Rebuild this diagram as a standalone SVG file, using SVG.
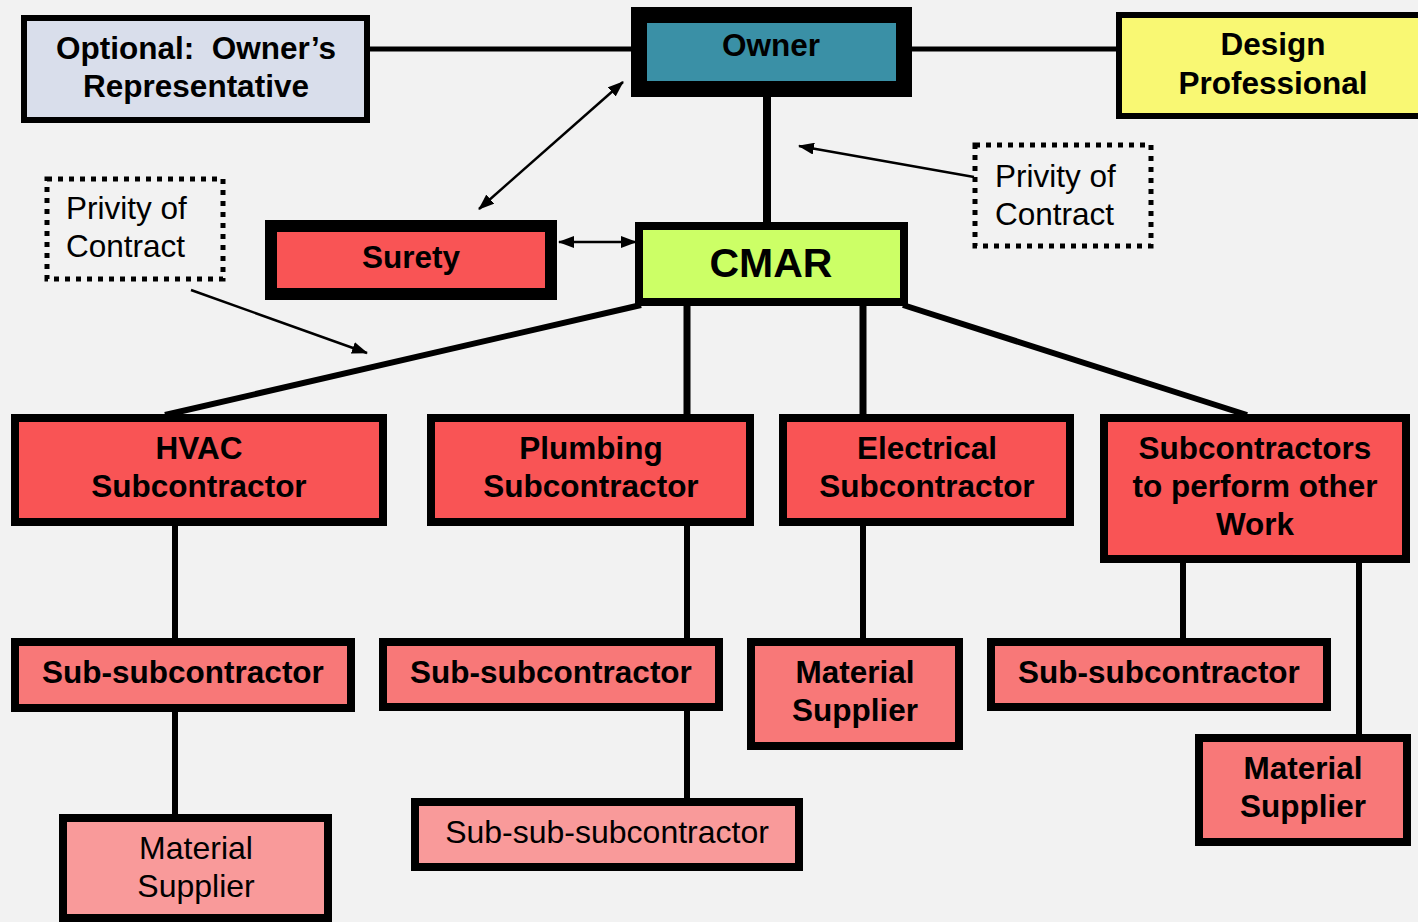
<svg xmlns="http://www.w3.org/2000/svg" width="1418" height="922" viewBox="0 0 1418 922">
<defs>
<style>
.b{font-family:"Liberation Sans",Arial,sans-serif;font-weight:bold;font-size:31.5px;fill:#000;text-anchor:middle}
.n{font-family:"Liberation Sans",Arial,sans-serif;font-size:31.5px;fill:#000}
.nc{font-family:"Liberation Sans",Arial,sans-serif;font-size:32px;fill:#000;text-anchor:middle}
.box{stroke:#000;stroke-width:8}
.red{fill:#f95455}
.pink{fill:#f87878}
.light{fill:#f99a9a}
.dot{fill:none;stroke:#000;stroke-width:5;stroke-dasharray:5 6}
.c{stroke:#000;fill:none}
.ar{stroke:#000;stroke-width:2.5;fill:none}
</style>
<marker id="ah" viewBox="0 0 16 12" refX="15" refY="6" markerWidth="16" markerHeight="12" markerUnits="userSpaceOnUse" orient="auto-start-reverse">
<path d="M0,0 L16,6 L0,12 Z" fill="#000"/>
</marker>
</defs>
<rect width="1418" height="922" fill="#f2f2f2"/>
<g id="connectors">
<line class="c" stroke-width="5" x1="369" y1="49" x2="634" y2="49"/>
<line class="c" stroke-width="5" x1="910" y1="49" x2="1118" y2="49"/>
<line class="c" stroke-width="8" x1="767" y1="95" x2="767" y2="224"/>
<line class="c" stroke-width="6" x1="641" y1="305" x2="165" y2="415"/>
<line class="c" stroke-width="7" x1="687" y1="304" x2="687" y2="416"/>
<line class="c" stroke-width="7" x1="863" y1="304" x2="863" y2="416"/>
<line class="c" stroke-width="6" x1="903" y1="305" x2="1247" y2="415"/>
<line class="c" stroke-width="6" x1="175" y1="524" x2="175" y2="640"/>
<line class="c" stroke-width="6" x1="175" y1="710" x2="175" y2="816"/>
<line class="c" stroke-width="6" x1="687" y1="524" x2="687" y2="640"/>
<line class="c" stroke-width="6" x1="687" y1="709" x2="687" y2="800"/>
<line class="c" stroke-width="6" x1="863" y1="524" x2="863" y2="640"/>
<line class="c" stroke-width="6" x1="1183" y1="561" x2="1183" y2="640"/>
<line class="c" stroke-width="6" x1="1359" y1="561" x2="1359" y2="736"/>
<line class="ar" x1="623" y1="82" x2="479" y2="209" marker-start="url(#ah)" marker-end="url(#ah)"/>
<line class="ar" x1="559" y1="242" x2="636" y2="242" marker-start="url(#ah)" marker-end="url(#ah)"/>
<line class="ar" x1="974" y1="177" x2="799" y2="146" marker-end="url(#ah)"/>
<line class="ar" stroke-width="3" x1="191" y1="290" x2="367" y2="353" marker-end="url(#ah)"/>
</g>
<g id="owners-rep">
<rect x="24" y="18" width="343" height="102" fill="#d9deeb" stroke="#000" stroke-width="6"/>
<text class="b" x="196" y="59" xml:space="preserve">Optional:  Owner’s</text>
<text class="b" x="196" y="97">Representative</text>
</g>
<g id="owner">
<rect x="639" y="15" width="265" height="74" fill="#3a90a6" stroke="#000" stroke-width="16"/>
<text class="b" x="771" y="56">Owner</text>
</g>
<g id="design-professional">
<rect x="1119" y="15" width="310" height="101" fill="#f9f873" stroke="#000" stroke-width="6"/>
<text class="b" x="1273" y="55">Design</text>
<text class="b" x="1273" y="94">Professional</text>
</g>
<g id="privity-right">
<rect class="dot" x="975" y="145" width="176" height="101"/>
<text class="n" x="995" y="187">Privity of</text>
<text class="n" x="995" y="225">Contract</text>
</g>
<g id="privity-left">
<rect class="dot" x="47" y="179" width="176" height="100"/>
<text class="n" x="66" y="219">Privity of</text>
<text class="n" x="66" y="257">Contract</text>
</g>
<g id="surety">
<rect class="red" x="271" y="226" width="280" height="68" stroke="#000" stroke-width="12"/>
<text class="b" x="411" y="268">Surety</text>
</g>
<g id="cmar">
<rect class="box" x="639" y="226" width="265" height="76" fill="#ccff66"/>
<text class="b" x="771" y="277" style="font-size:41px">CMAR</text>
</g>
<g id="hvac">
<rect class="box red" x="15" y="418" width="368" height="104"/>
<text class="b" x="199" y="459">HVAC</text>
<text class="b" x="199" y="497">Subcontractor</text>
</g>
<g id="plumbing">
<rect class="box red" x="431" y="418" width="319" height="104"/>
<text class="b" x="591" y="459">Plumbing</text>
<text class="b" x="591" y="497">Subcontractor</text>
</g>
<g id="electrical">
<rect class="box red" x="783" y="418" width="287" height="104"/>
<text class="b" x="927" y="459">Electrical</text>
<text class="b" x="927" y="497">Subcontractor</text>
</g>
<g id="other-work">
<rect class="box red" x="1104" y="418" width="302" height="141"/>
<text class="b" x="1255" y="459">Subcontractors</text>
<text class="b" x="1255" y="497">to perform other</text>
<text class="b" x="1255" y="535">Work</text>
</g>
<g id="hvac-subsub">
<rect class="box pink" x="15" y="642" width="336" height="66"/>
<text class="b" x="183" y="683">Sub-subcontractor</text>
</g>
<g id="plumbing-subsub">
<rect class="box pink" x="383" y="642" width="336" height="65"/>
<text class="b" x="551" y="683">Sub-subcontractor</text>
</g>
<g id="electrical-material">
<rect class="box pink" x="751" y="642" width="208" height="104"/>
<text class="b" x="855" y="683">Material</text>
<text class="b" x="855" y="721">Supplier</text>
</g>
<g id="other-subsub">
<rect class="box pink" x="991" y="642" width="336" height="65"/>
<text class="b" x="1159" y="683">Sub-subcontractor</text>
</g>
<g id="other-material">
<rect class="box pink" x="1199" y="738" width="208" height="104"/>
<text class="b" x="1303" y="779">Material</text>
<text class="b" x="1303" y="817">Supplier</text>
</g>
<g id="hvac-material">
<rect class="box light" x="63" y="818" width="265" height="100"/>
<text class="nc" x="196" y="859">Material</text>
<text class="nc" x="196" y="897">Supplier</text>
</g>
<g id="subsubsub">
<rect class="box light" x="415" y="802" width="384" height="65"/>
<text class="nc" x="607" y="843">Sub-sub-subcontractor</text>
</g>
</svg>
